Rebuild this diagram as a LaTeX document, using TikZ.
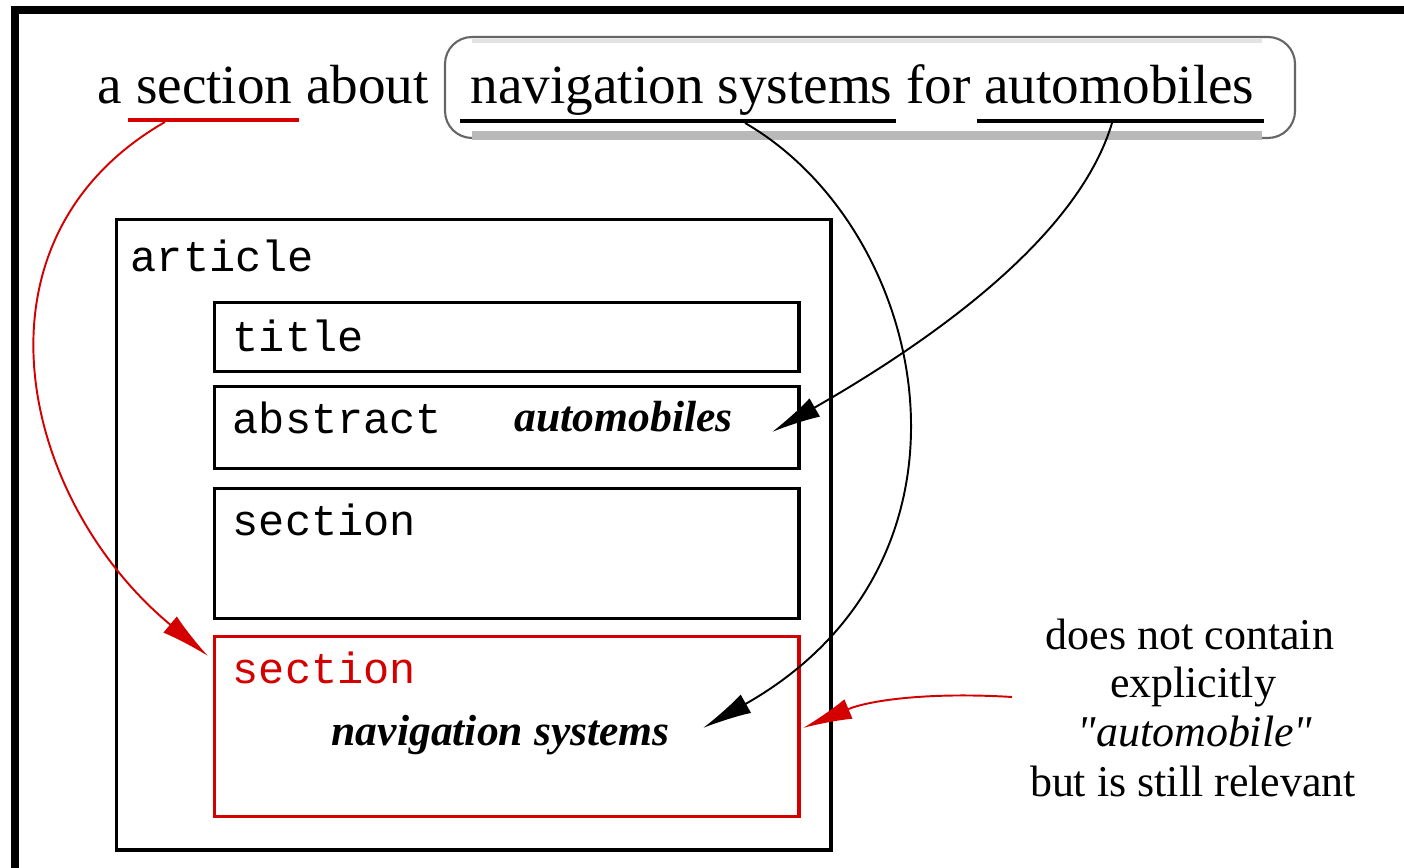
\documentclass[tikz,border=0pt]{standalone}
\usepackage{fontspec}
\setmainfont{Liberation Serif}
\setmonofont{Liberation Mono}
\usetikzlibrary{arrows.meta}
\definecolor{myred}{RGB}{212,0,0}
\begin{document}
\begin{tikzpicture}[x=0.01cm,y=-0.01cm,
  box/.style={draw, line width=0.9pt, inner sep=0pt, anchor=north west},
  mono/.style={font=\fontsize{12.4}{14}\selectfont\ttfamily, inner sep=0pt, anchor=base west},
  ital/.style={font=\fontsize{12.4}{14}\selectfont\bfseries\itshape, inner sep=0pt, anchor=base west},
  big/.style={font=\fontsize{15.7}{18}\selectfont, inner sep=0pt, anchor=base west},
  note/.style={font=\fontsize{12.5}{14}\selectfont, inner sep=0pt, anchor=base},
  conn/.style={line width=0.55pt, -{Latex[length=14pt,width=6pt]}},
]
\useasboundingbox (0,0) rectangle (1404,868);
\fill[white] (0,0) rectangle (1404,868);
% outer frame
\draw[line width=2.3pt] (15,868) -- (15,10) -- (1404,10);

% query box
\draw[gray!80!black, line width=0.6pt, rounded corners=0.27cm] (445,37) rectangle (1295,138);
\fill[gray!55] (472,131) rectangle (1262,140);
\fill[gray!22] (472,39) rectangle (1262,43);

% query texts
\node[big] (q1) at (97,104) {a section about};
\node[big] (q2) at (470,104) {navigation systems for automobiles};
\draw[myred, line width=0.9pt] (128,120) -- (299,120);
\draw[line width=0.9pt] (460,121) -- (896,121);
\draw[line width=0.9pt] (977,121) -- (1264,121);

% document structure
\node[box, minimum width=7.14cm, minimum height=6.30cm] (article) at (115,218) {};
\node[box, minimum width=5.84cm, minimum height=0.69cm] (title) at (213,301) {};
\node[box, minimum width=5.84cm, minimum height=0.82cm] (abstract) at (213,385) {};
\node[box, minimum width=5.84cm, minimum height=1.30cm] (sec1) at (213,487) {};
\node[box, myred, minimum width=5.84cm, minimum height=1.80cm] (sec2) at (213,635) {};

\node[mono] (tart) at (130,272) {article};
\node[mono] (ttitle) at (232,352) {title};
\node[mono] (tabs) at (232,434) {abstract};
\node[ital] (tauto) at (514,432) {automobiles};
\node[mono] (tsec) at (232,536) {section};
\node[mono, text=myred] (tsec2) at (232,684) {section};
\node[ital] (tnav) at (331,745) {navigation systems};

% note
\node[note] (n1) at (1190,650) {does not contain};
\node[note] (n2) at (1193,698) {explicitly};
\node[note] (n3) at (1195,747) {\itshape\addfontfeatures{Ligatures=TeXOff}"automobile"};
\node[note] (n4) at (1193,796) {but is still relevant};

% connectors
\coordinate (c1s) at (165,122);
\coordinate (c1e) at (208,656);
\draw[conn, myred] (c1s) .. controls (-40,240) and (20,500) .. (c1e);
\coordinate (c2s) at (745,123);
\coordinate (c2e) at (703,728);
\draw[conn] (c2s) .. controls (930,230) and (1000,560) .. (c2e);
\coordinate (c3s) at (1112,123);
\coordinate (c3e) at (772,432);
\draw[conn] (c3s) .. controls (1080,230) and (950,330) .. (c3e);
\coordinate (c4s) at (1012,697);
\coordinate (c4e) at (803,728);
\draw[conn, myred] (c4s) .. controls (930,692) and (870,700) .. (c4e);
\end{tikzpicture}
\end{document}
